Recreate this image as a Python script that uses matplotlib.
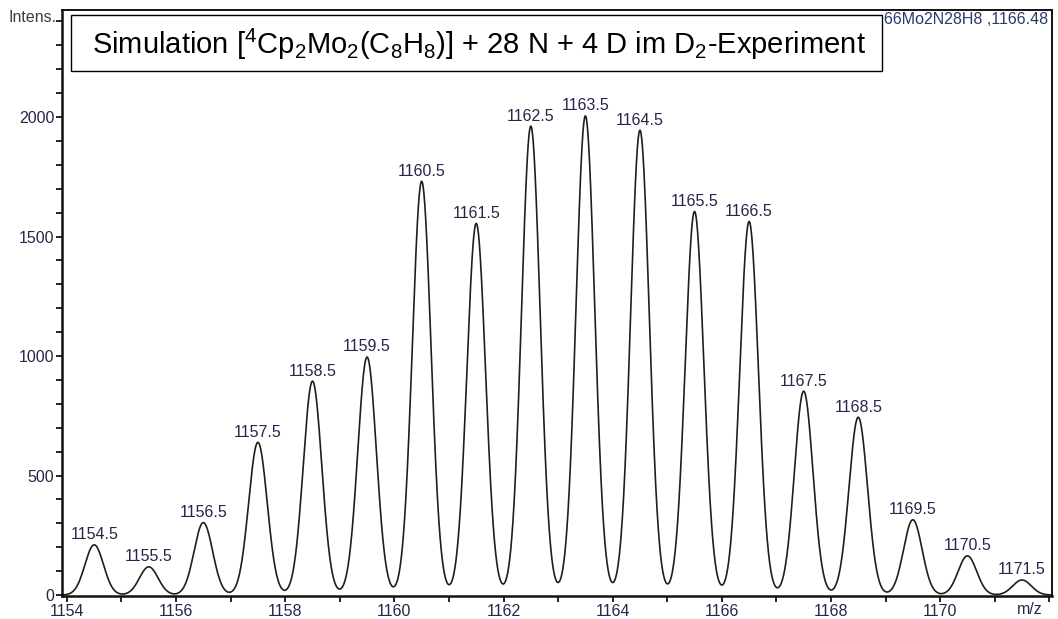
import numpy as np
import matplotlib
matplotlib.use("Agg")
import matplotlib.pyplot as plt
from matplotlib.ticker import FixedLocator, MultipleLocator
from matplotlib.patches import Rectangle

plt.rcParams['font.family'] = ['Liberation Sans', 'DejaVu Sans']
plt.rcParams['mathtext.fontset'] = 'custom'
plt.rcParams['mathtext.rm'] = 'Liberation Sans'
plt.rcParams['mathtext.it'] = 'Liberation Sans:italic'

# Simulated isotope pattern: peak centres (m/z) and intensities
peak_mz = [1154.5, 1155.5, 1156.5, 1157.5, 1158.5, 1159.5, 1160.5, 1161.5, 1162.5,
           1163.5, 1164.5, 1165.5, 1166.5, 1167.5, 1168.5, 1169.5, 1170.5, 1171.5]
peak_int = [210, 118, 303, 639, 895, 996, 1731, 1555, 1962,
            2005, 1945, 1605, 1563, 853, 744, 315, 164, 63]
peak_labels = ["1154.5", "1155.5", "1156.5", "1157.5", "1158.5", "1159.5", "1160.5",
               "1161.5", "1162.5", "1163.5", "1164.5", "1165.5", "1166.5", "1167.5",
               "1168.5", "1169.5", "1170.5", "1171.5"]

x_major = [1154, 1156, 1158, 1160, 1162, 1164, 1166, 1168, 1170]
x_minor = [1155, 1157, 1159, 1161, 1163, 1165, 1167, 1169, 1171, 1172]
y_major = [0, 500, 1000, 1500, 2000]

title = (r"Simulation [$\mathregular{^4}$Cp$\mathregular{_2}$Mo$\mathregular{_2}$"
         r"(C$\mathregular{_8}$H$\mathregular{_8}$)] + 28 N + 4 D im D$\mathregular{_2}$-Experiment")
formula_text = "66Mo2N28H8 ,1166.48"

label_color = "#26264a"
W, H = 1058, 619

fig = plt.figure(figsize=(W / 100, H / 100), dpi=100)
ax = fig.add_axes([62 / W, 1 - 596 / H, (1052 - 62) / W, (596 - 10) / H])

# Profile spectrum built from the stick list with a Gaussian line shape
sigma = 0.17
mz = np.linspace(1153.85, 1172.1, 5000)
profile = np.zeros_like(mz)
for m, h in zip(peak_mz, peak_int):
    profile += h * np.exp(-(mz - m) ** 2 / (2 * sigma ** 2))
ax.plot(mz, profile, color="#1e1e1e", lw=1.2, solid_joinstyle="round")

for m, h, lab in zip(peak_mz, peak_int, peak_labels):
    ax.annotate(lab, (m, h), xytext=(0, 4), textcoords="offset points",
                ha="center", va="baseline", fontsize=11.5, color=label_color)

ax.set_xlim(1153.91, 1172.05)
ax.set_ylim(-4, 2448)

ax.xaxis.set_major_locator(FixedLocator(x_major))
ax.xaxis.set_minor_locator(FixedLocator(x_minor))
ax.set_xticklabels([str(v) for v in x_major])
ax.yaxis.set_major_locator(FixedLocator(y_major))
ax.yaxis.set_minor_locator(MultipleLocator(100))
ax.set_yticklabels([str(v) for v in y_major])

ax.tick_params(axis="both", which="both", direction="out", length=4.5, width=1.2,
               labelsize=11.5, labelcolor=label_color, pad=1)
ax.tick_params(axis="x", which="both", pad=1.5)
for sp in ax.spines.values():
    sp.set_linewidth(1.4)
    sp.set_color("#111111")
ax.spines["left"].set_linewidth(1.8)
ax.spines["bottom"].set_linewidth(1.8)

# Axis captions
fig.text(57 / W, 1 - 18 / H, "Intens.", ha="right", va="center",
         fontsize=11.5, color="#4a3a3a")
fig.text(1030 / W, 1 - 609 / H, "m/z", ha="center", va="center",
         fontsize=11.5, color=label_color)

# Compound formula in the upper right, partly hidden by the title box
fig.text(884 / W, 1 - 20 / H, formula_text, ha="left", va="center",
         fontsize=11.5, color="#2a3a6a")

# Title box
fig.patches.append(Rectangle((71 / W, 1 - 71 / H), (882 - 71) / W, (71 - 15) / H,
                             transform=fig.transFigure, facecolor="white",
                             edgecolor="black", lw=1.0, zorder=5))
fig.text(92 / W, 1 - 44 / H, title, ha="left", va="center",
         fontsize=21, color="black", zorder=6)

fig.savefig("out.png", dpi=100)
